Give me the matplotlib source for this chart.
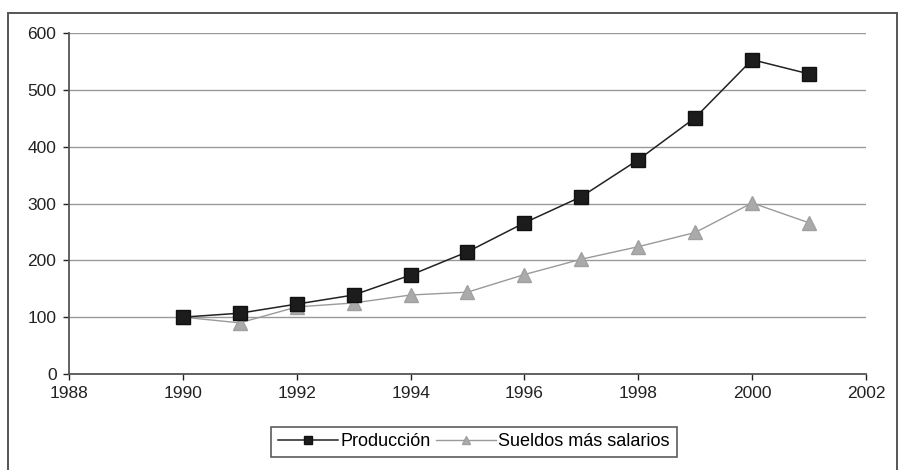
import matplotlib
matplotlib.use("Agg")
import matplotlib.pyplot as plt
from matplotlib.lines import Line2D
from matplotlib.patches import Rectangle

plt.rcParams['font.family'] = ['Liberation Sans', 'DejaVu Sans']

years = [1990, 1991, 1992, 1993, 1994, 1995, 1996, 1997, 1998, 1999, 2000, 2001]
produccion = [100, 107, 123, 139, 174, 215, 266, 312, 377, 451, 553, 528]
sueldos = [100, 90, 118, 125, 139, 144, 175, 202, 224, 249, 301, 266]
x_ticks = [1988, 1990, 1992, 1994, 1996, 1998, 2000, 2002]
y_ticks = [0, 100, 200, 300, 400, 500, 600]
labels = ["Producción", "Sueldos más salarios"]

fig = plt.figure(figsize=(9, 4.7), dpi=100)

# outer frame around the whole figure
fig.patches.append(Rectangle((8 / 900, -0.05), 889 / 900, 1 - 13 / 470 + 0.05,
                             transform=fig.transFigure, fill=False,
                             edgecolor="#555555", linewidth=1.4))

ax = fig.add_axes([69 / 900, 1 - 374 / 470, 797 / 900, 341 / 470])

ax.plot(years, produccion, color="#222222", linewidth=1.1, marker="s",
        markersize=10, markerfacecolor="#1c1c1c", markeredgecolor="#111111",
        zorder=4)
ax.plot(years, sueldos, color="#9a9a9a", linewidth=1.0, marker="^",
        markersize=10, markerfacecolor="#aaaaaa", markeredgecolor="#a0a0a0",
        zorder=3)

ax.set_xlim(1988, 2002)
ax.set_ylim(0, 600)
ax.set_xticks(x_ticks)
ax.set_yticks(y_ticks)
ax.tick_params(axis="both", labelsize=12.5, colors="#222222", length=4,
               width=1, direction="out")
ax.tick_params(axis="y", pad=5)
ax.tick_params(axis="x", pad=5)

ax.grid(axis="y", color="#999999", linewidth=1.0)
ax.set_axisbelow(True)
for side in ("top", "right"):
    ax.spines[side].set_visible(False)
for side in ("left", "bottom"):
    ax.spines[side].set_color("#555555")
    ax.spines[side].set_linewidth(1.3)

handles = [
    Line2D([], [], color="#222222", linewidth=1.1, marker="s", markersize=6,
           markerfacecolor="#1c1c1c", markeredgecolor="#111111"),
    Line2D([], [], color="#9a9a9a", linewidth=1.0, marker="^", markersize=6,
           markerfacecolor="#aaaaaa", markeredgecolor="#a0a0a0"),
]
leg = fig.legend(handles, labels, loc="center", bbox_to_anchor=(474 / 900, 1 - 442 / 470),
                 ncol=2, fontsize=13, frameon=True, fancybox=False,
                 handlelength=3.3, handletextpad=0.15, columnspacing=0.3,
                 borderpad=0.38, borderaxespad=0)
leg.get_frame().set_edgecolor("#333333")
leg.get_frame().set_linewidth(1.2)

fig.savefig("out.png", dpi=100)
